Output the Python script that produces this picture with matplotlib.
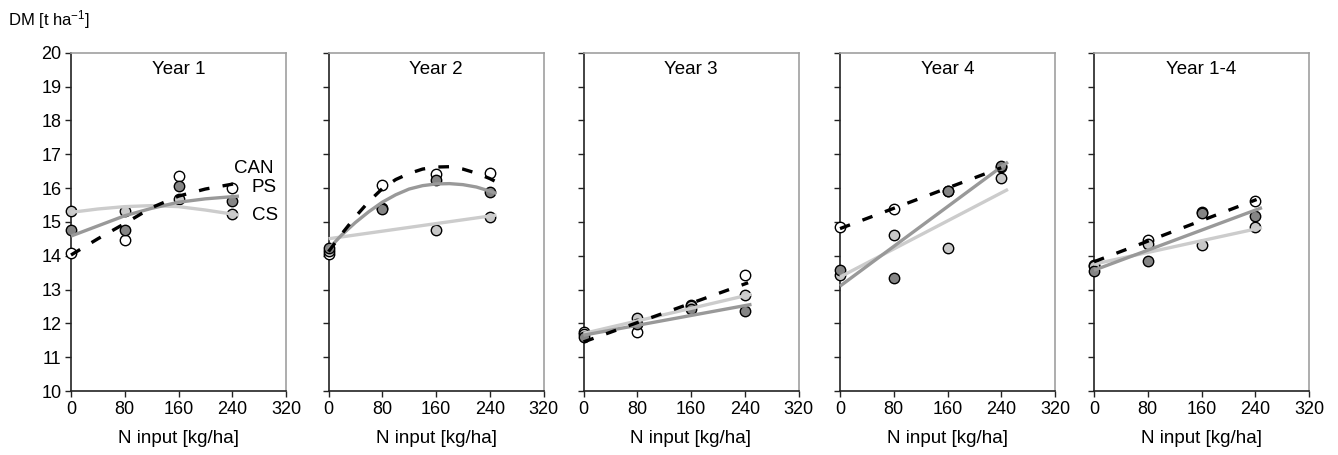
import matplotlib
matplotlib.use("Agg")
import matplotlib.pyplot as plt

plt.rcParams['font.family'] = ['Liberation Sans', 'DejaVu Sans']
plt.rcParams['mathtext.fontset'] = 'custom'
plt.rcParams['mathtext.rm'] = 'Liberation Sans'
plt.rcParams['mathtext.default'] = 'regular'

# ---------------- data ----------------
panel_titles = ["Year 1", "Year 2", "Year 3", "Year 4", "Year 1-4"]
n_levels = [0, 80, 160, 240]

can_points = [
    [14.08, 14.46, 16.36, 15.99],
    [14.04, 16.09, 16.40, 16.43],
    [11.75, 11.75, 12.55, 13.42],
    [14.85, 15.37, 15.90, 16.62],
    [13.72, 14.46, 15.30, 15.62],
]
ps_points = [
    [14.77, 14.77, 16.06, 15.61],
    [14.24, 15.38, 16.25, 15.89],
    [11.60, 11.99, 12.42, 12.37],
    [13.59, 13.33, 15.92, 16.65],
    [13.55, 13.85, 15.25, 15.17],
]
cs_points = [
    [15.32, 15.32, 15.69, 15.22],
    [14.15, 15.42, 14.75, 15.13],
    [11.68, 12.17, 12.50, 12.83],
    [13.42, 14.61, 14.24, 16.30],
    [13.70, 14.36, 14.31, 14.85],
]

# trend lines (x positions and values)
can_trend_x = [
    [0, 40, 80, 120, 160, 200, 250],
    [0, 20, 40, 60, 80, 100, 120, 140, 160, 180, 200, 220, 240, 250],
    [0, 245],
    [0, 240],
    [0, 242],
]
can_trend_y = [
    [14.02, 14.50, 14.95, 15.42, 15.76, 15.97, 16.15],
    [14.12, 14.65, 15.15, 15.60, 15.98, 16.25, 16.43, 16.56, 16.62, 16.63, 16.56, 16.44, 16.28, 16.18],
    [11.45, 13.20],
    [14.80, 16.60],
    [13.82, 15.66],
]
ps_trend_x = [
    [0, 40, 80, 120, 160, 200, 250],
    [0, 20, 40, 60, 80, 100, 120, 140, 160, 180, 200, 220, 240, 250],
    [0, 250],
    [0, 250],
    [0, 250],
]
ps_trend_y = [
    [14.58, 14.88, 15.18, 15.40, 15.58, 15.68, 15.76],
    [14.20, 14.62, 14.98, 15.30, 15.58, 15.80, 15.97, 16.07, 16.12, 16.13, 16.10, 16.03, 15.91, 15.84],
    [11.65, 12.56],
    [13.10, 16.77],
    [13.57, 15.42],
]
cs_trend_x = [
    [0, 40, 80, 120, 160, 200, 250],
    [0, 250],
    [0, 250],
    [0, 250],
    [0, 250],
]
cs_trend_y = [
    [15.28, 15.38, 15.45, 15.48, 15.45, 15.35, 15.20],
    [14.50, 15.20],
    [11.70, 12.86],
    [13.37, 15.96],
    [13.75, 14.83],
]

x_ticks = [0, 80, 160, 240, 320]
y_ticks = [10, 11, 12, 13, 14, 15, 16, 17, 18, 19, 20]

# ---------------- styles ----------------
W, H = 1338, 455
lefts_px = [71, 328.5, 583.5, 840, 1094]
ax_w_px = 215
top_px, bot_px = 52.7, 391

can_face = 'white'
ps_face = '#858585'
cs_face = '#c8c8c8'
ps_line = '#999999'
cs_line = '#cccccc'
dark = '#222222'
fs = 13.5

fig = plt.figure(figsize=(W / 100, H / 100), dpi=100)

for i in range(5):
    ax = fig.add_axes([lefts_px[i] / W, 1 - bot_px / H, ax_w_px / W, (bot_px - top_px) / H])
    ax.set_xlim(0, 320)
    ax.set_ylim(10, 20)
    ax.set_xticks(x_ticks)
    ax.set_yticks(y_ticks)
    if i > 0:
        ax.set_yticklabels([])
    ax.tick_params(direction='out', length=4, width=1, color=dark, labelsize=13, pad=3)
    for s in ['left', 'bottom']:
        ax.spines[s].set_color(dark)
        ax.spines[s].set_linewidth(1.2)
    for s in ['top', 'right']:
        ax.spines[s].set_color('#a0a0a0')
        ax.spines[s].set_linewidth(1.2)

    mk = dict(marker='o', markersize=7.5, markeredgecolor='black', markeredgewidth=1.0,
              linestyle='none', clip_on=False, zorder=3)
    ax.plot(n_levels, can_points[i], markerfacecolor=can_face, **mk)
    ax.plot(n_levels, cs_points[i], markerfacecolor=cs_face, **mk)
    ax.plot(n_levels, ps_points[i], markerfacecolor=ps_face, **mk)

    ax.plot(cs_trend_x[i], cs_trend_y[i], color=cs_line, lw=2.4, zorder=4, clip_on=False,
            solid_capstyle='butt')
    ax.plot(ps_trend_x[i], ps_trend_y[i], color=ps_line, lw=2.4, zorder=4, clip_on=False,
            solid_capstyle='butt')
    ax.plot(can_trend_x[i], can_trend_y[i], color='black', lw=2.4, zorder=5, clip_on=False,
            linestyle=(0, (3.2, 4.0)))

    ax.text(0.5, 0.949, panel_titles[i], transform=ax.transAxes, ha='center', va='center',
            fontsize=fs)
    ax.set_xlabel("N input [kg/ha]", fontsize=fs, labelpad=9)

    if i == 0:
        ax.text(242, 16.59, "CAN", ha='left', va='center', fontsize=fs, zorder=6)
        ax.text(269, 16.03, "PS", ha='left', va='center', fontsize=fs, zorder=6)
        ax.text(269, 15.20, "CS", ha='left', va='center', fontsize=fs, zorder=6)

fig.text(8 / W, 1 - 25 / H, "DM [t ha$^{-1}$]", ha='left', va='baseline', fontsize=12)

fig.savefig("out.png", dpi=100)
